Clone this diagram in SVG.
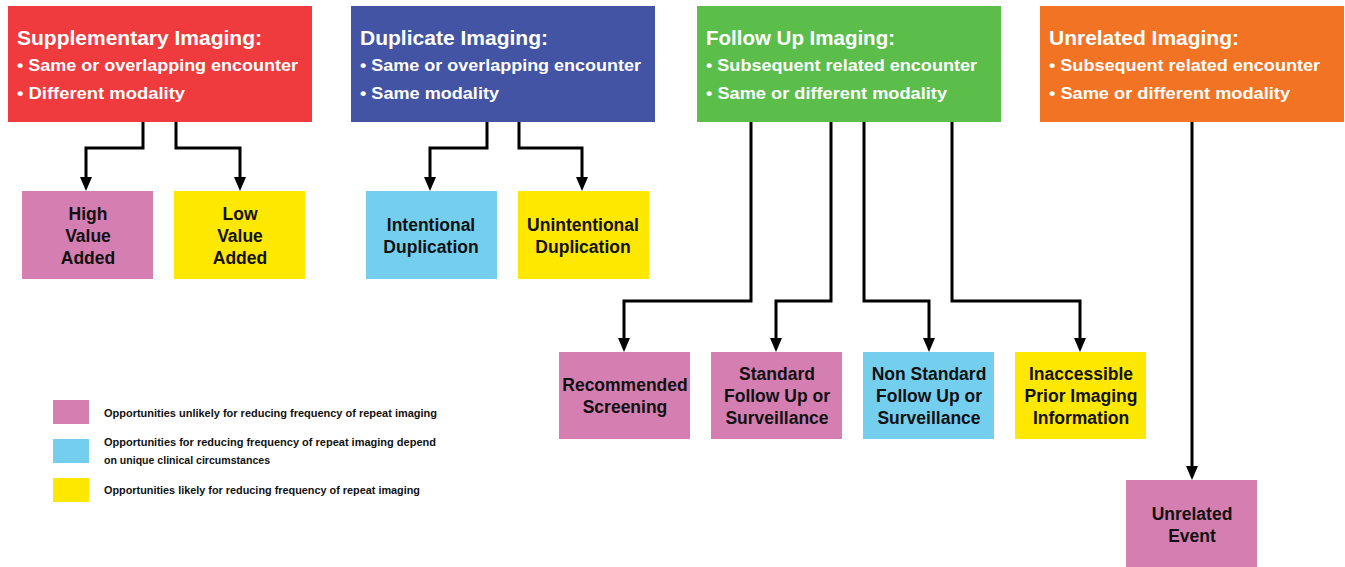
<svg xmlns="http://www.w3.org/2000/svg" width="1345" height="567" viewBox="0 0 1345 567">
<defs>
<style>
.hd{font-family:"Liberation Sans",Arial,sans-serif;font-weight:bold;fill:#fff}
.t1{font-size:20.5px}
.t2{font-size:17px}
.lb{font-family:"Liberation Sans",Arial,sans-serif;font-weight:bold;font-size:17.5px;fill:#111;text-anchor:middle}
.lg{font-family:"Liberation Sans",Arial,sans-serif;font-weight:bold;font-size:11px;fill:#111}
.c{fill:none;stroke:#000;stroke-width:3;marker-end:url(#ah)}
.pk{fill:#D57EB1}.yl{fill:#FFE800}.lbl{fill:#74CFEF}
</style>
<marker id="ah" viewBox="0 0 14 12" refX="0" refY="6" markerWidth="14" markerHeight="12" markerUnits="userSpaceOnUse" orient="auto">
<path d="M0,0 L14,6 L0,12 Z" fill="#000"/>
</marker>
</defs>

<g id="connectors">
<path class="c" d="M143,122 V148 H86 V177"/>
<path class="c" d="M176,122 V148 H240 V177"/>
<path class="c" d="M487,122 V148 H430 V177"/>
<path class="c" d="M519,122 V148 H582 V177"/>
<path class="c" d="M751,122 V301 H624 V338"/>
<path class="c" d="M831,122 V301 H776 V338"/>
<path class="c" d="M864,122 V301 H929 V338"/>
<path class="c" d="M952,122 V301 H1080 V338"/>
<path class="c" d="M1192,122 V466"/>
</g>

<g id="supplementary">
<rect x="8" y="6" width="304" height="116" fill="#EF3B3E"/>
<text class="hd t1" x="17" y="45" textLength="245" lengthAdjust="spacingAndGlyphs">Supplementary Imaging:</text>
<text class="hd t2" x="17" y="71" textLength="281" lengthAdjust="spacingAndGlyphs">• Same or overlapping encounter</text>
<text class="hd t2" x="17" y="99" textLength="168" lengthAdjust="spacingAndGlyphs">• Different modality</text>
</g>
<g id="duplicate">
<rect x="351" y="6" width="304" height="116" fill="#4454A4"/>
<text class="hd t1" x="360" y="45" textLength="188" lengthAdjust="spacingAndGlyphs">Duplicate Imaging:</text>
<text class="hd t2" x="360" y="71" textLength="281" lengthAdjust="spacingAndGlyphs">• Same or overlapping encounter</text>
<text class="hd t2" x="360" y="99" textLength="139" lengthAdjust="spacingAndGlyphs">• Same modality</text>
</g>
<g id="followup">
<rect x="697" y="6" width="304" height="116" fill="#5BBD4A"/>
<text class="hd t1" x="706" y="45" textLength="189" lengthAdjust="spacingAndGlyphs">Follow Up Imaging:</text>
<text class="hd t2" x="706" y="71" textLength="271" lengthAdjust="spacingAndGlyphs">• Subsequent related encounter</text>
<text class="hd t2" x="706" y="99" textLength="241" lengthAdjust="spacingAndGlyphs">• Same or different modality</text>
</g>
<g id="unrelated">
<rect x="1040" y="6" width="304" height="116" fill="#F37325"/>
<text class="hd t1" x="1049" y="45" textLength="190" lengthAdjust="spacingAndGlyphs">Unrelated Imaging:</text>
<text class="hd t2" x="1049" y="71" textLength="271" lengthAdjust="spacingAndGlyphs">• Subsequent related encounter</text>
<text class="hd t2" x="1049" y="99" textLength="241" lengthAdjust="spacingAndGlyphs">• Same or different modality</text>
</g>

<g id="high-value">
<rect class="pk" x="22" y="191" width="131" height="88"/>
<text class="lb" x="88" y="220">High</text>
<text class="lb" x="88" y="242">Value</text>
<text class="lb" x="88" y="264">Added</text>
</g>
<g id="low-value">
<rect class="yl" x="174" y="191" width="131" height="88"/>
<text class="lb" x="240" y="220">Low</text>
<text class="lb" x="240" y="242">Value</text>
<text class="lb" x="240" y="264">Added</text>
</g>
<g id="intentional">
<rect class="lbl" x="366" y="191" width="131" height="88"/>
<text class="lb" x="431" y="231">Intentional</text>
<text class="lb" x="431" y="253">Duplication</text>
</g>
<g id="unintentional">
<rect class="yl" x="518" y="191" width="131" height="88"/>
<text class="lb" x="583" y="231">Unintentional</text>
<text class="lb" x="583" y="253">Duplication</text>
</g>
<g id="recommended">
<rect class="pk" x="559" y="352" width="131" height="87"/>
<text class="lb" x="625" y="391">Recommended</text>
<text class="lb" x="625" y="413">Screening</text>
</g>
<g id="standard">
<rect class="pk" x="711" y="352" width="131" height="87"/>
<text class="lb" x="777" y="380">Standard</text>
<text class="lb" x="777" y="402">Follow Up or</text>
<text class="lb" x="777" y="424">Surveillance</text>
</g>
<g id="nonstandard">
<rect class="lbl" x="863" y="352" width="131" height="87"/>
<text class="lb" x="929" y="380">Non Standard</text>
<text class="lb" x="929" y="402">Follow Up or</text>
<text class="lb" x="929" y="424">Surveillance</text>
</g>
<g id="inaccessible">
<rect class="yl" x="1015" y="352" width="131" height="87"/>
<text class="lb" x="1081" y="380">Inaccessible</text>
<text class="lb" x="1081" y="402">Prior Imaging</text>
<text class="lb" x="1081" y="424">Information</text>
</g>
<g id="unrelated-event">
<rect class="pk" x="1126" y="480" width="131" height="87"/>
<text class="lb" x="1192" y="520">Unrelated</text>
<text class="lb" x="1192" y="542">Event</text>
</g>

<g id="legend">
<rect class="pk" x="53" y="400" width="36" height="24"/>
<text class="lg" x="104" y="417" textLength="333" lengthAdjust="spacingAndGlyphs">Opportunities unlikely for reducing frequency of repeat imaging</text>
<rect class="lbl" x="53" y="439" width="36" height="24"/>
<text class="lg" x="104" y="446" textLength="332" lengthAdjust="spacingAndGlyphs">Opportunities for reducing frequency of repeat imaging depend</text>
<text class="lg" x="104" y="464" textLength="166" lengthAdjust="spacingAndGlyphs">on unique clinical circumstances</text>
<rect class="yl" x="53" y="478" width="36" height="24"/>
<text class="lg" x="104" y="494" textLength="316" lengthAdjust="spacingAndGlyphs">Opportunities likely for reducing frequency of repeat imaging</text>
</g>
</svg>
